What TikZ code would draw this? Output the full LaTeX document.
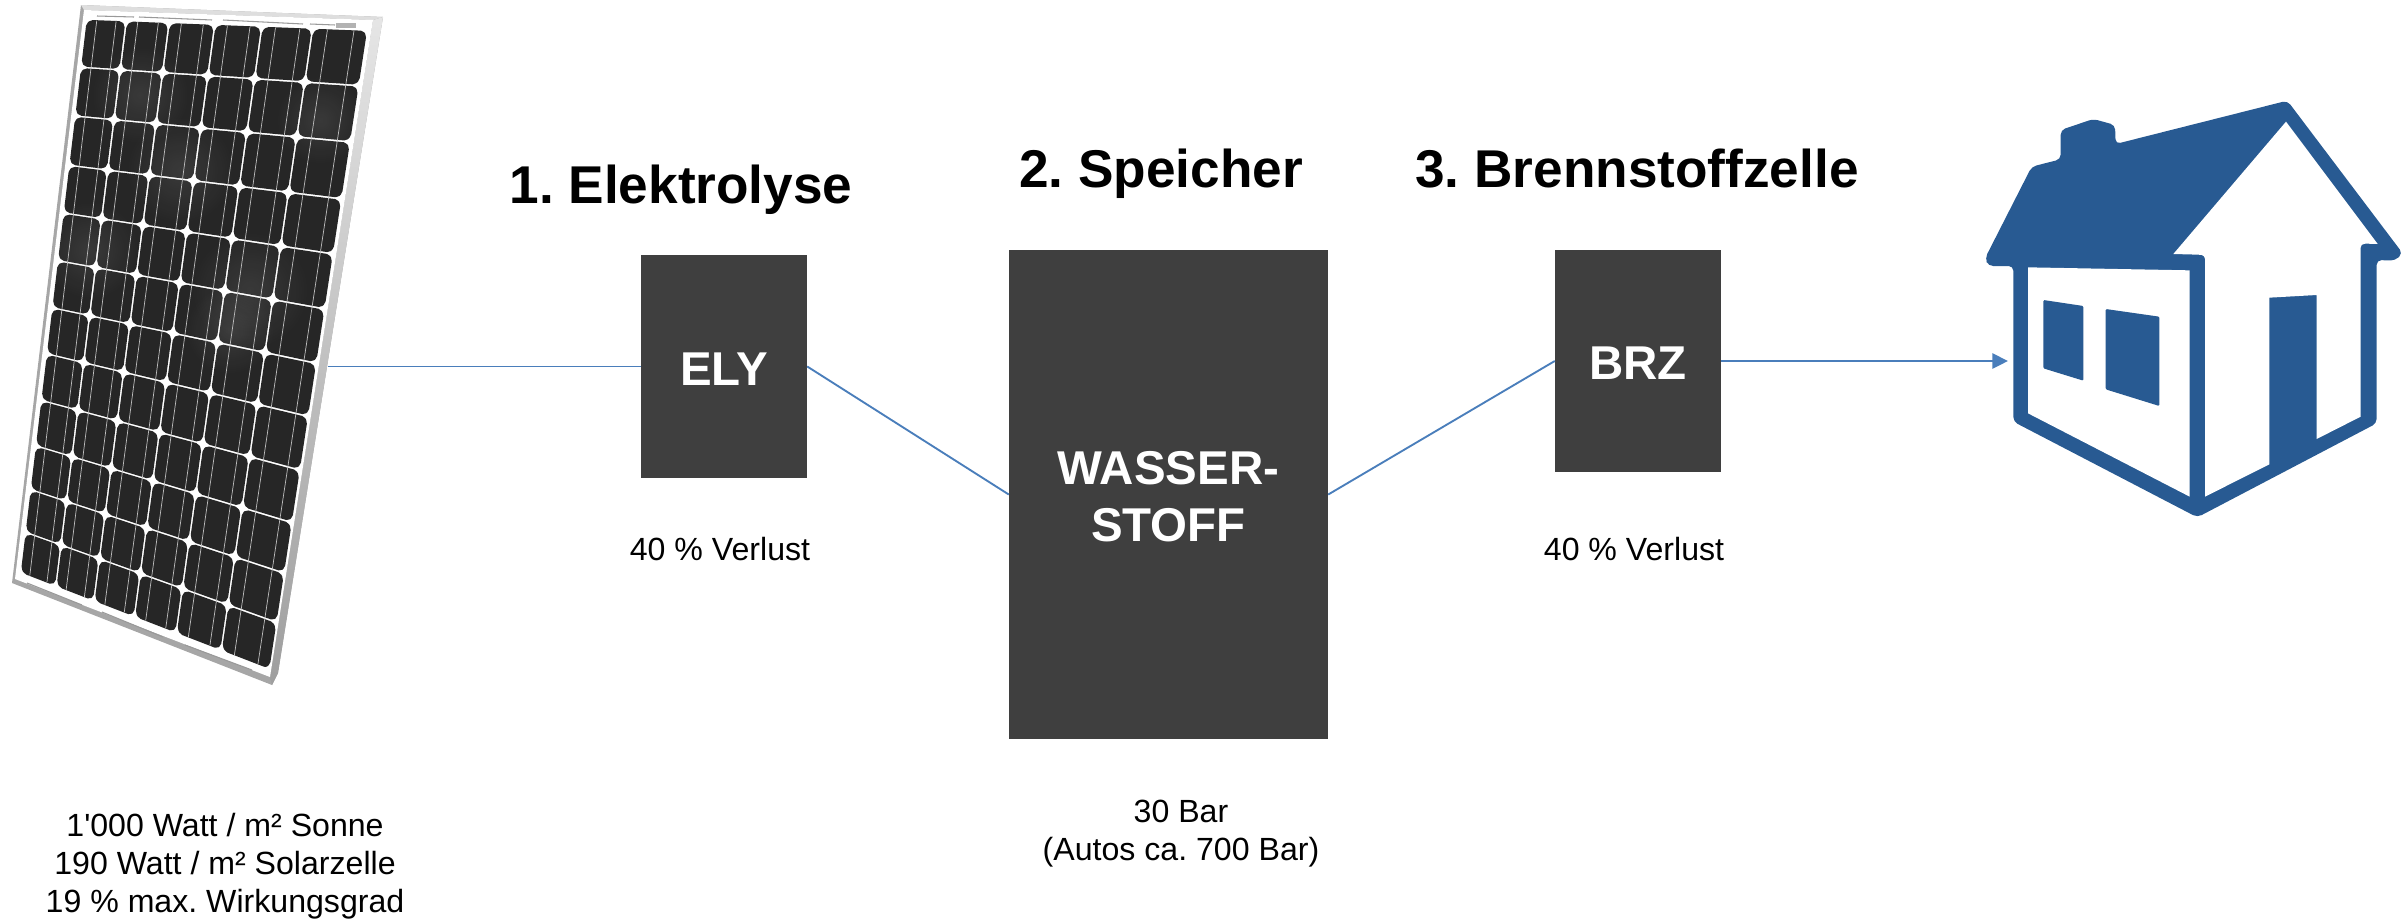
\documentclass[tikz,border=0pt]{standalone}
\usepackage{fontspec}
\setmainfont{Liberation Sans}[Ligatures=TeXOff]
\usetikzlibrary{arrows.meta,fadings}
\tikzfading[name=softspot,inner color=transparent!0,outer color=transparent!100]
\definecolor{housec}{HTML}{285A92}
\definecolor{linec}{HTML}{4A7EBB}
\definecolor{boxc}{HTML}{3F3F3F}
\definecolor{cellc}{HTML}{262626}
\def\ulist{{0,.143,.295,.457,.624,.804,1}}
\def\vlist{{0,.087,.175,.264,.35,.436,.521,.604,.688,.77,.849,.926,1}}
\def\P#1#2{({PX(#1,#2)},{PY(#1,#2)})}
\newcommand{\lowered}[1]{\raisebox{-2pt}[\height][\depth]{#1}}
\tikzset{
  headtext/.style={font=\fontsize{45.4}{54}\selectfont\bfseries,inner sep=0pt,anchor=base},
  bodytext/.style={font=\fontsize{27.4}{32.5}\selectfont,align=center,inner sep=0pt},
  blockbox/.style={fill=boxc,text=white,inner sep=0pt,align=center,
    font=\fontsize{40.5}{48.5}\selectfont\bfseries},
  link/.style={draw=linec,line width=1.6pt},
  busbar/.style={draw=black!25,line width=0.6pt},
  tagline/.style={draw=black!40,line width=0.9pt},
  gloss/.style={fill=white,path fading=softspot,opacity=.09},
}
\begin{document}
\frenchspacing
\begin{tikzpicture}[x=0.03cm,y=-0.03cm,
  declare function={
    PX(\u,\v)=(1-\v)*((1-\u)*86+\u*368)+\v*((1-\u)*20+\u*270);
    PY(\u,\v)=(1-\v)*((1-\u)*19+\u*30)+\v*((1-\u)*573+\u*670);
  }]
\useasboundingbox (0,0) rectangle (2405,920);
% solar panel frame
\fill[black!35] (81,5) -- (383,17) -- (278,673) -- (272,685) -- (12,583) -- cycle;
\fill[black!13] (81,5) -- (383,17) -- (373,20) -- (84,10) -- cycle;
\shade[top color=black!10,bottom color=black!38] (373,20) -- (383,17) -- (278,673) -- (272,685) -- (270,677) -- cycle;
\fill[white] (84,10) -- (373,20) -- (270,677) -- (15,579) -- cycle;
% small marks on the frame
\draw[tagline] (97,16) -- (134,17) (139,17) -- (212,20) (223,20) -- (303,24) (310,24) -- (335,25);
\fill[black!30] (336,23) rectangle (356,28);
\draw[tagline] (27,583) -- (82,605) (102,612) -- (163,637) (185,645) -- (252,670);
% cells
\foreach \i in {0,...,5}{
  \foreach \j in {0,...,11}{
    \pgfmathsetmacro\ua{\ulist[\i]+.003}
    \pgfmathsetmacro\ub{\ulist[\i+1]-.003}
    \pgfmathsetmacro\va{\vlist[\j]+.0014}
    \pgfmathsetmacro\vb{\vlist[\j+1]-.0014}
    \pgfmathsetmacro\uaa{\ua+.014}
    \pgfmathsetmacro\ubb{\ub-.014}
    \pgfmathsetmacro\vaa{\va+.007}
    \pgfmathsetmacro\vbb{\vb-.007}
    \fill[cellc,rounded corners=1.8pt]
      \P{\uaa}{\va} -- \P{\ubb}{\va} -- \P{\ub}{\vaa} -- \P{\ub}{\vbb}
      -- \P{\ubb}{\vb} -- \P{\uaa}{\vb} -- \P{\ua}{\vbb} -- \P{\ua}{\vaa} -- cycle;
  }
}
% soft reflections on the cells
\fill[gloss] (140,95) circle (50);
\fill[gloss] (180,170) circle (55);
\fill[gloss] (250,290) circle (60);
\fill[gloss] (90,250) circle (50);
\fill[gloss] (230,330) circle (45);
\fill[gloss] (320,120) circle (45);
\foreach \i in {0,...,5}{
  \pgfmathsetmacro\ua{\ulist[\i]}
  \pgfmathsetmacro\ub{\ulist[\i+1]}
  \pgfmathsetmacro\ba{\ua+.27*(\ub-\ua)}
  \pgfmathsetmacro\bb{\ua+.75*(\ub-\ua)}
  \draw[busbar] \P{\ba}{0.002} -- \P{\ba}{0.998};
  \draw[busbar] \P{\bb}{0.002} -- \P{\bb}{0.998};
}
% house
\begin{scope}[shift={(1950,80)},scale=1/3]
  \fill[housec,rounded corners=4pt]
    (105,535) -- (245,260) -- (332,238) -- (332,150) -- (430,117) -- (495,135)
    -- (497,192) -- (1012,62) -- (1358,520) -- (1335,542) -- (1280,540)
    -- (1280,1030) -- (742,1312) -- (190,1025) -- (190,558) -- (115,558) -- cycle;
  \fill[white] (234,562) -- (719,571) -- (719,1250) -- (234,1000) -- cycle;
  \fill[white] (1008,125) -- (1283,492) -- (1250,491)
    [rounded corners=3pt] -- (1232,492) -- (1232,530) [sharp corners]
    -- (1232,1010) -- (1100,1077) -- (1100,645) -- (958,653) -- (958,1153)
    -- (765,1250) [rounded corners=3pt] -- (765,526) [sharp corners] -- (745,524) -- (670,522) -- cycle;
  \fill[housec,rounded corners=1pt] (280,660) -- (400,678) -- (400,902) -- (280,865) -- cycle;
  \fill[housec,rounded corners=1pt] (467,687) -- (628,710) -- (628,978) -- (467,928) -- cycle;
\end{scope}
% blocks
\node[blockbox,minimum width=166*0.03cm,minimum height=223*0.03cm] (ely) at (724,366.5) {\lowered{ELY}};
\node[blockbox,minimum width=319*0.03cm,minimum height=489*0.03cm] (store) at (1168.5,494.5) {\lowered{WASSER-}\\\lowered{STOFF}};
\node[blockbox,minimum width=166*0.03cm,minimum height=222*0.03cm] (brz) at (1638,361) {\lowered{BRZ}};
% connectors
\coordinate (panelend) at (328,366.5);
\coordinate (housepoint) at (2008,361);
\draw[link] (panelend) -- (ely.west);
\draw[link] (ely.east) -- (store.west);
\draw[link] (store.east) -- (brz.west);
\draw[link,-{Triangle[length=13.4pt,width=13pt]}] (brz.east) -- (housepoint);
% texts
\node[headtext] (h1) at (681,203) {1. Elektrolyse};
\node[headtext] (h2) at (1161,187) {2. Speicher};
\node[headtext] (h3) at (1637,187) {3. Brennstoffzelle};
\node[bodytext] (loss1) at (720,549) {40 \% Verlust};
\node[bodytext] (loss2) at (1634,549) {40 \% Verlust};
\node[bodytext] (bar) at (1181,834) {30 Bar\\(Autos ca. 700 Bar)};
\node[bodytext] (sun) at (225,866) {1'000 Watt / m² Sonne\\190 Watt / m² Solarzelle\\19 \% max. Wirkungsgrad};
\end{tikzpicture}
\end{document}
